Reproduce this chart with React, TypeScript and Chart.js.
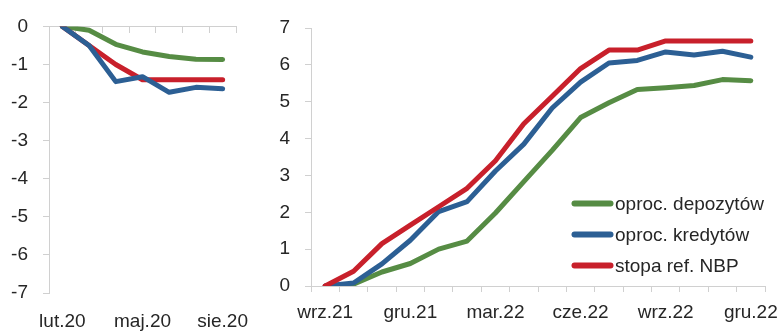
import React, { useEffect, useRef } from 'react';
import { Chart, registerables } from 'chart.js';

Chart.register(...registerables);

// Cumulative change since the start of each easing / tightening cycle, p.p.
const months2020 = ['lut.20', 'mar.20', 'kwi.20', 'maj.20', 'cze.20', 'lip.20', 'sie.20'];
const deposits2020 = [0, -0.1, -0.47, -0.67, -0.79, -0.86, -0.87];
const loans2020 = [0, -0.5, -1.45, -1.32, -1.73, -1.6, -1.64];
const refRate2020 = [0, -0.5, -1.0, -1.4, -1.4, -1.4, -1.4];

const months2122 = [
  'wrz.21', 'paź.21', 'lis.21', 'gru.21', 'sty.22', 'lut.22', 'mar.22', 'kwi.22',
  'maj.22', 'cze.22', 'lip.22', 'sie.22', 'wrz.22', 'paź.22', 'lis.22', 'gru.22',
];
const deposits2122 = [0, 0.05, 0.38, 0.61, 1.0, 1.22, 1.98, 2.83, 3.68, 4.57, 4.97, 5.33, 5.38, 5.44, 5.6, 5.57];
const loans2122 = [0, 0.08, 0.6, 1.24, 2.02, 2.29, 3.12, 3.85, 4.83, 5.53, 6.05, 6.12, 6.35, 6.27, 6.37, 6.21];
const refRate2122 = [0, 0.4, 1.15, 1.65, 2.15, 2.65, 3.4, 4.4, 5.15, 5.9, 6.4, 6.4, 6.65, 6.65, 6.65, 6.65];

const seriesNames = ['oproc. depozytów', 'oproc. kredytów', 'stopa ref. NBP'];

const FONT_FAMILY = '"Liberation Sans", Arial, sans-serif';
const FONT_SIZE = 19;
const TEXT = '#262626';
const AXIS = '#d0d0d0';
const GREEN = '#568c44';
const BLUE = '#2c5f94';
const RED = '#c8202b';
const tickFont = { family: FONT_FAMILY, size: FONT_SIZE };

// Show every third month on the category axis
function everyThird(this: any, value: any, index: number) {
  return index % 3 === 0 ? this.getLabelForValue(value) : '';
}

// Fixed axis band; edge labels may overhang into the outer padding
function fixHeight(h: number) {
  return (s: any) => {
    s.height = h;
    s.paddingLeft = 0;
    s.paddingRight = 0;
  };
}

// Legend drawn inside the plot area, in the lower right corner
const insideLegend = {
  id: 'insideLegend',
  afterDraw(chart: any) {
    const { ctx, chartArea } = chart;
    const entries = [
      { label: seriesNames[0], color: GREEN },
      { label: seriesNames[1], color: BLUE },
      { label: seriesNames[2], color: RED },
    ];
    ctx.save();
    ctx.font = `${FONT_SIZE}px ${FONT_FAMILY}`;
    ctx.textBaseline = 'middle';
    ctx.textAlign = 'left';
    entries.forEach((e, i) => {
      const y = chartArea.bottom - 82.5 + i * 31;
      ctx.strokeStyle = e.color;
      ctx.lineWidth = 6;
      ctx.lineCap = 'round';
      ctx.beginPath();
      ctx.moveTo(chartArea.right - 190.5, y);
      ctx.lineTo(chartArea.right - 154.5, y);
      ctx.stroke();
      ctx.fillStyle = TEXT;
      ctx.fillText(e.label, chartArea.right - 150, y + 1);
    });
    ctx.restore();
  },
};

const lineElements = {
  point: { radius: 0, hoverRadius: 0 },
  line: { borderWidth: 5, tension: 0, borderCapStyle: 'round', borderJoinStyle: 'round' },
};

function easingConfig(): any {
  return {
    type: 'line',
    data: {
      labels: months2020,
      datasets: [
        { label: seriesNames[1], data: loans2020, borderColor: BLUE, backgroundColor: BLUE, order: 0, xAxisID: 'x', yAxisID: 'y' },
        { label: seriesNames[2], data: refRate2020, borderColor: RED, backgroundColor: RED, order: 1, xAxisID: 'x', yAxisID: 'y' },
        { label: seriesNames[0], data: deposits2020, borderColor: GREEN, backgroundColor: GREEN, order: 2, xAxisID: 'x', yAxisID: 'y' },
      ],
    },
    options: {
      responsive: false,
      animation: false,
      devicePixelRatio: 1,
      layout: { padding: { top: 23, right: 14, bottom: 0, left: 0 } },
      elements: lineElements,
      plugins: { legend: { display: false }, tooltip: { enabled: false } },
      events: [],
      scales: {
        x: {
          type: 'category',
          position: 'bottom',
          offset: true,
          grid: { display: false, drawTicks: false, offset: true },
          border: { display: false },
          ticks: { autoSkip: false, maxRotation: 0, padding: 17, color: TEXT, font: tickFont, callback: everyThird },
          afterFit: fixHeight(38),
        },
        xZero: {
          type: 'category',
          axis: 'x',
          position: { y: 0 },
          offset: true,
          grid: { offset: true, drawOnChartArea: false, drawTicks: true, tickLength: 6, color: AXIS },
          border: { display: true, color: AXIS, width: 1 },
          ticks: { display: false },
        },
        y: {
          min: -7,
          max: 0,
          ticks: { stepSize: 1, padding: 15, color: TEXT, font: tickFont },
          grid: { drawOnChartArea: false, tickLength: 6, color: AXIS },
          border: { color: AXIS },
          afterFit: (s: any) => { s.width = 49; },
        },
      },
    },
  };
}

function tighteningConfig(): any {
  return {
    type: 'line',
    data: {
      labels: months2122,
      datasets: [
        { label: seriesNames[2], data: refRate2122, borderColor: RED, backgroundColor: RED, order: 0 },
        { label: seriesNames[1], data: loans2122, borderColor: BLUE, backgroundColor: BLUE, order: 1 },
        { label: seriesNames[0], data: deposits2122, borderColor: GREEN, backgroundColor: GREEN, order: 2 },
      ],
    },
    options: {
      responsive: false,
      animation: false,
      devicePixelRatio: 1,
      layout: { padding: { top: 28, right: 13, bottom: 0, left: 0 } },
      elements: lineElements,
      plugins: { legend: { display: false }, tooltip: { enabled: false } },
      events: [],
      scales: {
        x: {
          type: 'category',
          position: 'bottom',
          offset: true,
          grid: { offset: true, drawOnChartArea: false, drawTicks: true, tickLength: 6, color: AXIS },
          border: { display: true, color: AXIS },
          ticks: { autoSkip: false, maxRotation: 0, padding: 9, color: TEXT, font: tickFont, callback: everyThird },
          afterFit: fixHeight(45),
        },
        y: {
          min: 0,
          max: 7,
          ticks: { stepSize: 1, padding: 15, color: TEXT, font: tickFont },
          grid: { drawOnChartArea: false, tickLength: 6, color: AXIS },
          border: { color: AXIS },
          afterFit: (s: any) => { s.width = 51; },
        },
      },
    },
    plugins: [insideLegend],
  };
}

function Panel({ width, height, left, makeConfig }: { width: number; height: number; left: number; makeConfig: () => any }) {
  const ref = useRef<HTMLCanvasElement | null>(null);
  useEffect(() => {
    const chart = new Chart(ref.current as HTMLCanvasElement, makeConfig());
    return () => chart.destroy();
  }, [makeConfig]);
  return (
    <div style={{ position: 'absolute', left, top: 0, width, height }}>
      <canvas ref={ref} width={width} height={height} style={{ display: 'block', width, height }} />
    </div>
  );
}

export default function App() {
  return (
    <div style={{ position: 'fixed', left: 0, top: 0, width: 778, height: 331, background: '#ffffff' }}>
      <Panel left={0} width={250} height={331} makeConfig={easingConfig} />
      <Panel left={260} width={518} height={331} makeConfig={tighteningConfig} />
    </div>
  );
}
